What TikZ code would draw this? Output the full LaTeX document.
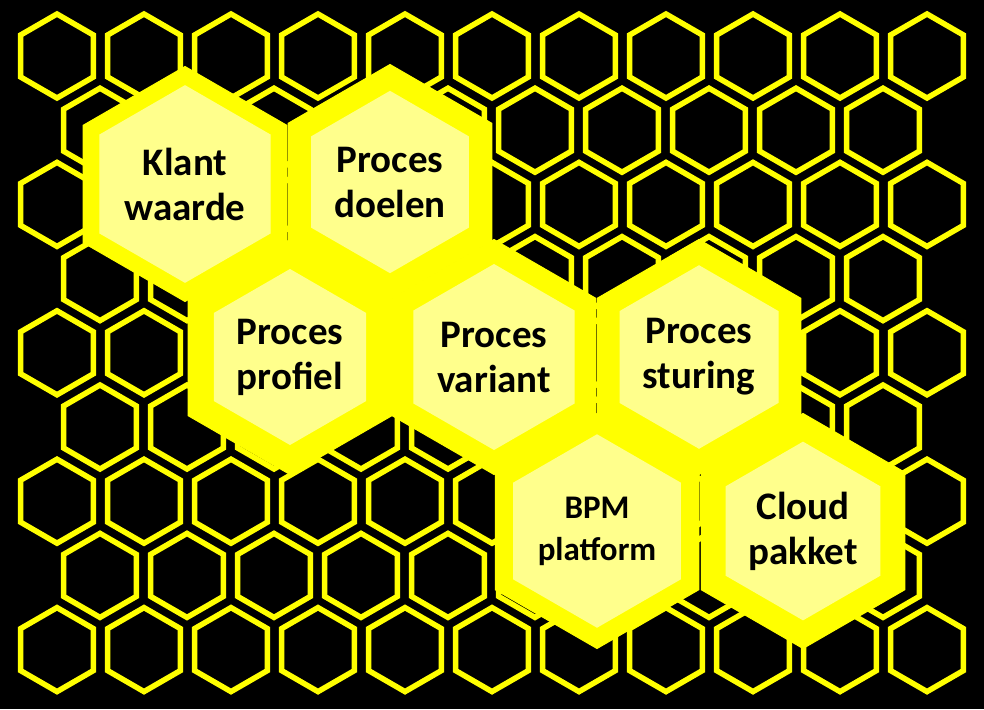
\documentclass[tikz,border=0pt]{standalone}
\usepackage{fontspec}
\setmainfont{Carlito}
\usetikzlibrary{shapes.geometric}
\definecolor{hy}{HTML}{FFFF00}
\definecolor{hl}{HTML}{FFFF8C}
\tikzset{
 hexa/.style={regular polygon,regular polygon sides=6,shape border rotate=30,inner sep=0pt},
 cell/.style={hexa,draw=hy,line width=5.5pt,minimum size=84pt},
 bighex/.style={hexa,fill=hy,draw=hy,line width=1pt,minimum size=235pt},
 innerhex/.style={hexa,fill=hl,minimum size=176pt,
   font=\bfseries\fontsize{39}{45}\selectfont,align=center,text=black},
}
\begin{document}
\begin{tikzpicture}[x=1pt,y=-1pt]
\fill[black] (0,0) rectangle (984,709);
\useasboundingbox (0,0) rectangle (984,709);
\foreach \r in {0,2,4,6,8}{
  \foreach \k in {0,...,10}{
    \node[cell] at ({57+87*\k},{56+74.2*\r}) {};
  }}
\foreach \r in {1,3,5,7}{
  \foreach \k in {0,...,9}{
    \node[cell] at ({100+87*\k},{56+74.2*\r}) {};
  }}
\foreach \n/\x/\y in {a/185/184,b/390/182,c/290/357,d/494/357,e/699/357,f/597/531,g/803/531}{
  \node[bighex] (o\n) at (\x,\y) {};
}
\node[innerhex] (klant) at (185,184) {Klant\\waarde};
\node[innerhex] (doelen) at (390,182) {Proces\\doelen};
\node[innerhex] (profiel) at (290,357) {Proces\\profiel};
\node[innerhex] (variant) at (494,357) {Proces\\variant};
\node[innerhex] (sturing) at (699,357) {Proces\\sturing};
\node[innerhex,font=\bfseries\fontsize{33}{42}\selectfont] (bpm) at (597,531) {BPM\\platform};
\node[innerhex] (cloud) at (803,531) {Cloud\\pakket};
\end{tikzpicture}
\end{document}
